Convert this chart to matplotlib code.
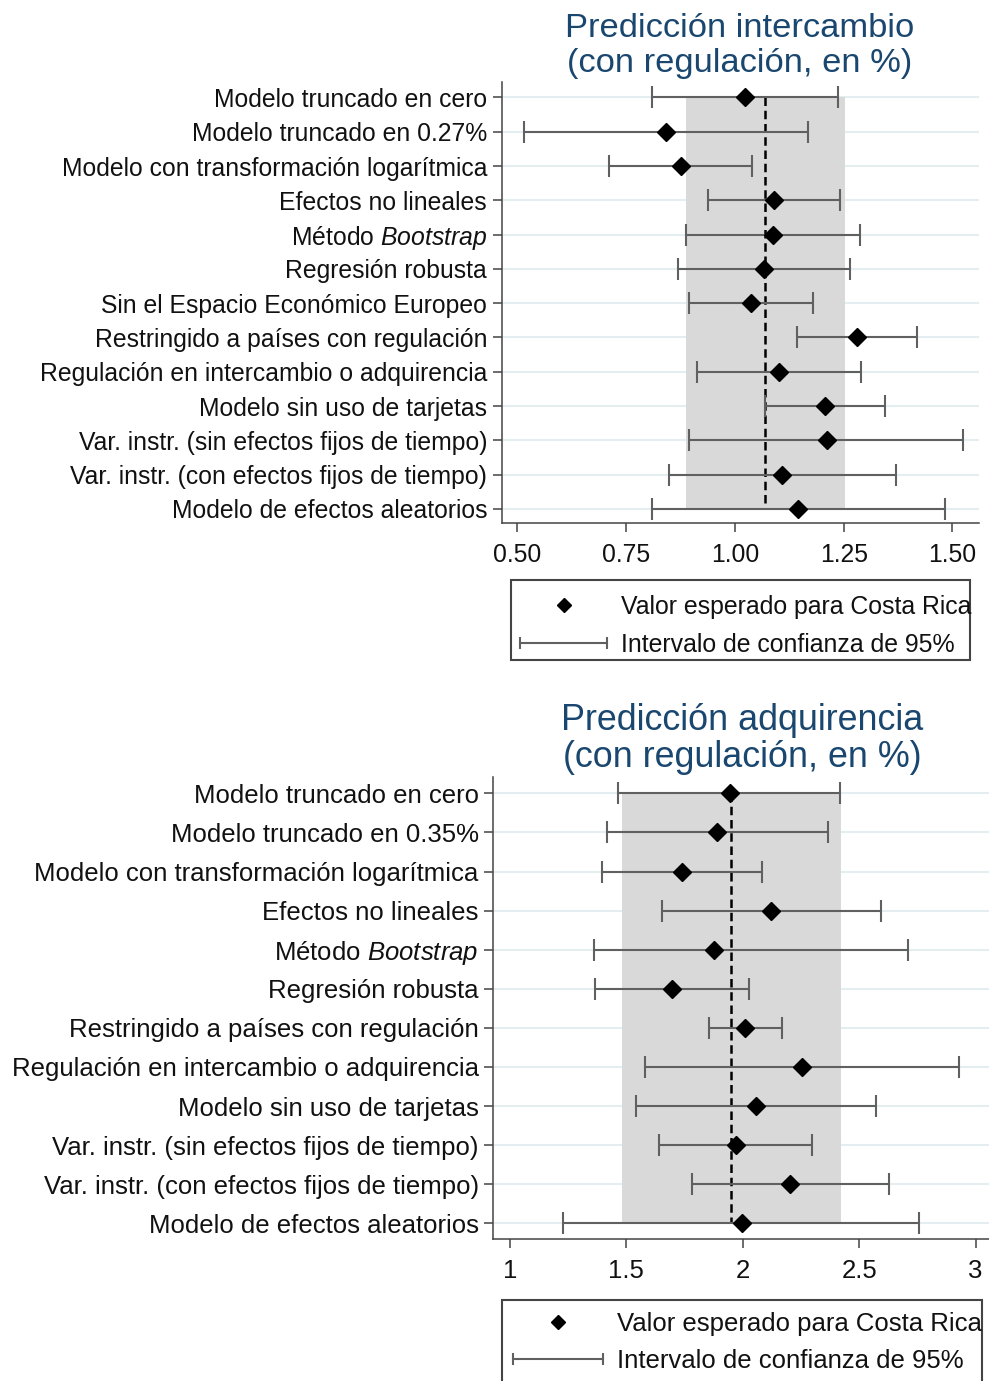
import numpy as np
import matplotlib
matplotlib.use("Agg")
import matplotlib.pyplot as plt
from matplotlib.lines import Line2D
from matplotlib.patches import Rectangle
from matplotlib.legend_handler import HandlerLine2D

plt.rcParams['font.family'] = ['Liberation Sans', 'DejaVu Sans']
plt.rcParams['mathtext.fontset'] = 'custom'
plt.rcParams['mathtext.rm'] = 'Liberation Sans'
plt.rcParams['mathtext.it'] = 'Liberation Sans:italic'

# --- data: intercambio (top panel) ---
top_labels = [
    "Modelo truncado en cero",
    "Modelo truncado en 0.27%",
    "Modelo con transformación logarítmica",
    "Efectos no lineales",
    "Método $\\it{Bootstrap}$",
    "Regresión robusta",
    "Sin el Espacio Económico Europeo",
    "Restringido a países con regulación",
    "Regulación en intercambio o adquirencia",
    "Modelo sin uso de tarjetas",
    "Var. instr. (sin efectos fijos de tiempo)",
    "Var. instr. (con efectos fijos de tiempo)",
    "Modelo de efectos aleatorios",
]
top_est = [1.023, 0.841, 0.875, 1.089, 1.088, 1.067, 1.037, 1.280, 1.102, 1.208, 1.211, 1.109, 1.146]
top_lo = [0.810, 0.515, 0.711, 0.937, 0.888, 0.870, 0.894, 1.143, 0.913, 1.070, 0.895, 0.849, 0.810]
top_hi = [1.236, 1.167, 1.039, 1.242, 1.287, 1.264, 1.179, 1.418, 1.289, 1.345, 1.525, 1.371, 1.482]
top_band = (0.887, 1.254)
top_center = 1.070
top_ticks = [0.50, 0.75, 1.00, 1.25, 1.50]
top_ticklabels = ["0.50", "0.75", "1.00", "1.25", "1.50"]

# --- data: adquirencia (bottom panel) ---
bot_labels = [
    "Modelo truncado en cero",
    "Modelo truncado en 0.35%",
    "Modelo con transformación logarítmica",
    "Efectos no lineales",
    "Método $\\it{Bootstrap}$",
    "Regresión robusta",
    "Restringido a países con regulación",
    "Regulación en intercambio o adquirencia",
    "Modelo sin uso de tarjetas",
    "Var. instr. (sin efectos fijos de tiempo)",
    "Var. instr. (con efectos fijos de tiempo)",
    "Modelo de efectos aleatorios",
]
bot_est = [1.944, 1.889, 1.739, 2.123, 1.875, 1.697, 2.010, 2.253, 2.058, 1.969, 2.204, 1.995]
bot_lo = [1.465, 1.415, 1.397, 1.651, 1.359, 1.365, 1.855, 1.580, 1.543, 1.641, 1.782, 1.229]
bot_hi = [2.419, 2.366, 2.082, 2.594, 2.710, 2.025, 2.167, 2.929, 2.572, 2.297, 2.628, 2.756]
bot_band = (1.481, 2.423)
bot_center = 1.951
bot_ticks = [1, 1.5, 2, 2.5, 3]
bot_ticklabels = ["1", "1.5", "2", "2.5", "3"]

legend_labels = ["Valor esperado para Costa Rica", "Intervalo de confianza de 95%"]

TITLE_COLOR = '#1a476f'
AXIS_COLOR = '#444444'
CI_COLOR = '#606060'
GRID_COLOR = '#e4eef0'


def draw_panel(ax, labels, est, lo, hi, band, center, ticks, ticklabels,
               xlim, pad_top, pad_bot, fs):
    n = len(labels)
    y = np.arange(n)
    est = np.array(est)
    lo = np.array(lo)
    hi = np.array(hi)

    for yy in y:
        ax.axhline(yy, color=GRID_COLOR, lw=1.5, zorder=0)
    ax.fill_betweenx([0, n - 1], band[0], band[1], color='#d9d9d9', lw=0, zorder=1)
    ax.vlines(center, 0, n - 1, color='black', lw=1.8, linestyles=(0, (3.4, 1.9)), zorder=2)
    ax.errorbar(est, y, xerr=[est - lo, hi - est], fmt='none', ecolor=CI_COLOR,
                elinewidth=1.5, capsize=8, capthick=1.5, zorder=3)
    ax.plot(est, y, ls='none', marker='D', ms=9, color='black', zorder=4)

    ax.set_ylim(n - 1 + pad_bot, -pad_top)
    ax.set_xlim(*xlim)
    ax.set_yticks(y)
    ax.set_yticklabels(labels, fontsize=fs, color='#111111')
    ax.set_xticks(ticks)
    ax.set_xticklabels(ticklabels, fontsize=fs, color='#111111')
    ax.tick_params(axis='y', length=6.5, width=1.1, color=AXIS_COLOR, pad=4)
    ax.tick_params(axis='x', length=6.5, width=1.1, color=AXIS_COLOR, pad=8)
    for side in ['top', 'right']:
        ax.spines[side].set_visible(False)
    for side in ['left', 'bottom']:
        ax.spines[side].set_color(AXIS_COLOR)
        ax.spines[side].set_linewidth(1.1)


fig = plt.figure(figsize=(9.89, 13.81), dpi=100)
W, H = 989, 1381

ax1 = fig.add_axes([501.7 / W, 1 - 523.3 / H, (979 - 501.7) / W, (523.3 - 82) / H])
draw_panel(ax1, top_labels, top_est, top_lo, top_hi, top_band, top_center,
           top_ticks, top_ticklabels, (0.464, 1.561), 0.45, 0.42, 17.8)

ax2 = fig.add_axes([493.3 / W, 1 - 1239 / H, (989 - 493.3) / W, (1239 - 777.3) / H])
draw_panel(ax2, bot_labels, bot_est, bot_lo, bot_hi, bot_band, bot_center,
           bot_ticks, bot_ticklabels, (0.928, 3.058), 0.41, 0.40, 18.5)

fig.text(740 / W, 1 - 46 / H, "Predicción intercambio\n(con regulación, en %)",
         ha='center', va='center', fontsize=24.8, color=TITLE_COLOR, linespacing=1.13)
fig.text(742 / W, 1 - 739 / H, "Predicción adquirencia\n(con regulación, en %)",
         ha='center', va='center', fontsize=25.8, color=TITLE_COLOR, linespacing=1.1)


# legends: frame drawn as a separate rectangle, entries placed without frame
def add_legend(box, x0, y0, fs, spacing):
    bx0, by0, bx1, by1 = box
    fig.patches.append(Rectangle((bx0 / W, 1 - by1 / H), (bx1 - bx0) / W, (by1 - by0) / H,
                                 transform=fig.transFigure, facecolor='white',
                                 edgecolor=AXIS_COLOR, lw=1.5, zorder=5))
    h_pt = Line2D([], [], ls='none', marker='D', ms=7.5, color='black')
    h_ci = Line2D([], [], color=CI_COLOR, lw=1.5, marker='|', ms=9, mew=1.5)
    leg = fig.legend([h_pt, h_ci], legend_labels,
                     loc='upper left', bbox_to_anchor=(x0 / W, 1 - y0 / H),
                     bbox_transform=fig.transFigure, borderaxespad=0, borderpad=0,
                     frameon=False, handlelength=3.5, handletextpad=0.55,
                     labelspacing=spacing, fontsize=fs,
                     handler_map={h_ci: HandlerLine2D(numpoints=2, marker_pad=0)})
    leg.set_zorder(6)
    for t in leg.get_texts():
        t.set_color('#111111')
    return leg

add_legend((511, 580, 970, 660), 520, 595, 17.9, 0.56)
add_legend((502, 1300, 982, 1400), 513, 1312, 18.5, 0.5)

fig.savefig("out.png", dpi=100, facecolor='white')
